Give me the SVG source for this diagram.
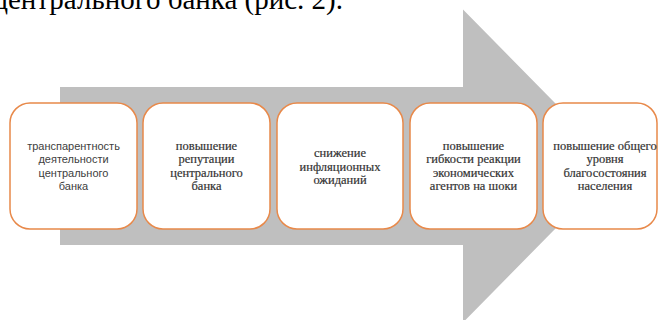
<svg xmlns="http://www.w3.org/2000/svg" width="659" height="320" viewBox="0 0 659 320">
<style>
.box{fill:#ffffff;stroke:#E8894A;stroke-width:1.5}
.sans{font-family:"Liberation Sans","DejaVu Sans",sans-serif;font-size:11px;fill:#404040;text-anchor:middle}
.serif{font-family:"Liberation Serif","Times New Roman",serif;font-size:12.5px;fill:#333333;stroke:#333333;stroke-width:0.2;text-anchor:middle}
.head{font-family:"Liberation Serif","Times New Roman",serif;font-size:29px;fill:#000000;text-anchor:end}
</style>
<rect width="659" height="320" fill="#ffffff"/>
<text class="head" x="343" y="9">центрального банка (рис. 2).</text>
<g id="arrow">
<polygon points="60,87 463,87 463,9.5 617,166 463,322.5 463,245 60,245" fill="#BFBFBF"/>
</g>
<g id="connectors"></g>
<g id="node1">
<rect class="box" x="10" y="103" width="127" height="126" rx="20" ry="20"/>
<text class="sans"><tspan x="73.5" y="149.5">транспарентность</tspan><tspan x="73.5" y="163">деятельности</tspan><tspan x="73.5" y="176.5">центрального</tspan><tspan x="73.5" y="190">банка</tspan></text>
</g>
<g id="node2">
<rect class="box" x="143" y="103" width="127" height="126" rx="20" ry="20"/>
<text class="serif"><tspan x="206.5" y="149.5">повышение</tspan><tspan x="206.5" y="163">репутации</tspan><tspan x="206.5" y="176.5">центрального</tspan><tspan x="206.5" y="190">банка</tspan></text>
</g>
<g id="node3">
<rect class="box" x="277" y="103" width="126" height="126" rx="20" ry="20"/>
<text class="serif"><tspan x="340" y="157">снижение</tspan><tspan x="340" y="170.5">инфляционных</tspan><tspan x="340" y="184">ожиданий</tspan></text>
</g>
<g id="node4">
<rect class="box" x="410" y="103" width="127" height="126" rx="20" ry="20"/>
<text class="serif"><tspan x="473.5" y="149.5">повышение</tspan><tspan x="473.5" y="163">гибкости реакции</tspan><tspan x="473.5" y="176.5">экономических</tspan><tspan x="473.5" y="190">агентов на шоки</tspan></text>
</g>
<g id="node5">
<rect class="box" x="543" y="103" width="114" height="126" rx="20" ry="20"/>
<text class="serif"><tspan x="605" y="149.5">повышение общего</tspan><tspan x="605" y="163">уровня</tspan><tspan x="605" y="176.5">благосостояния</tspan><tspan x="605" y="190">населения</tspan></text>
</g>
</svg>
